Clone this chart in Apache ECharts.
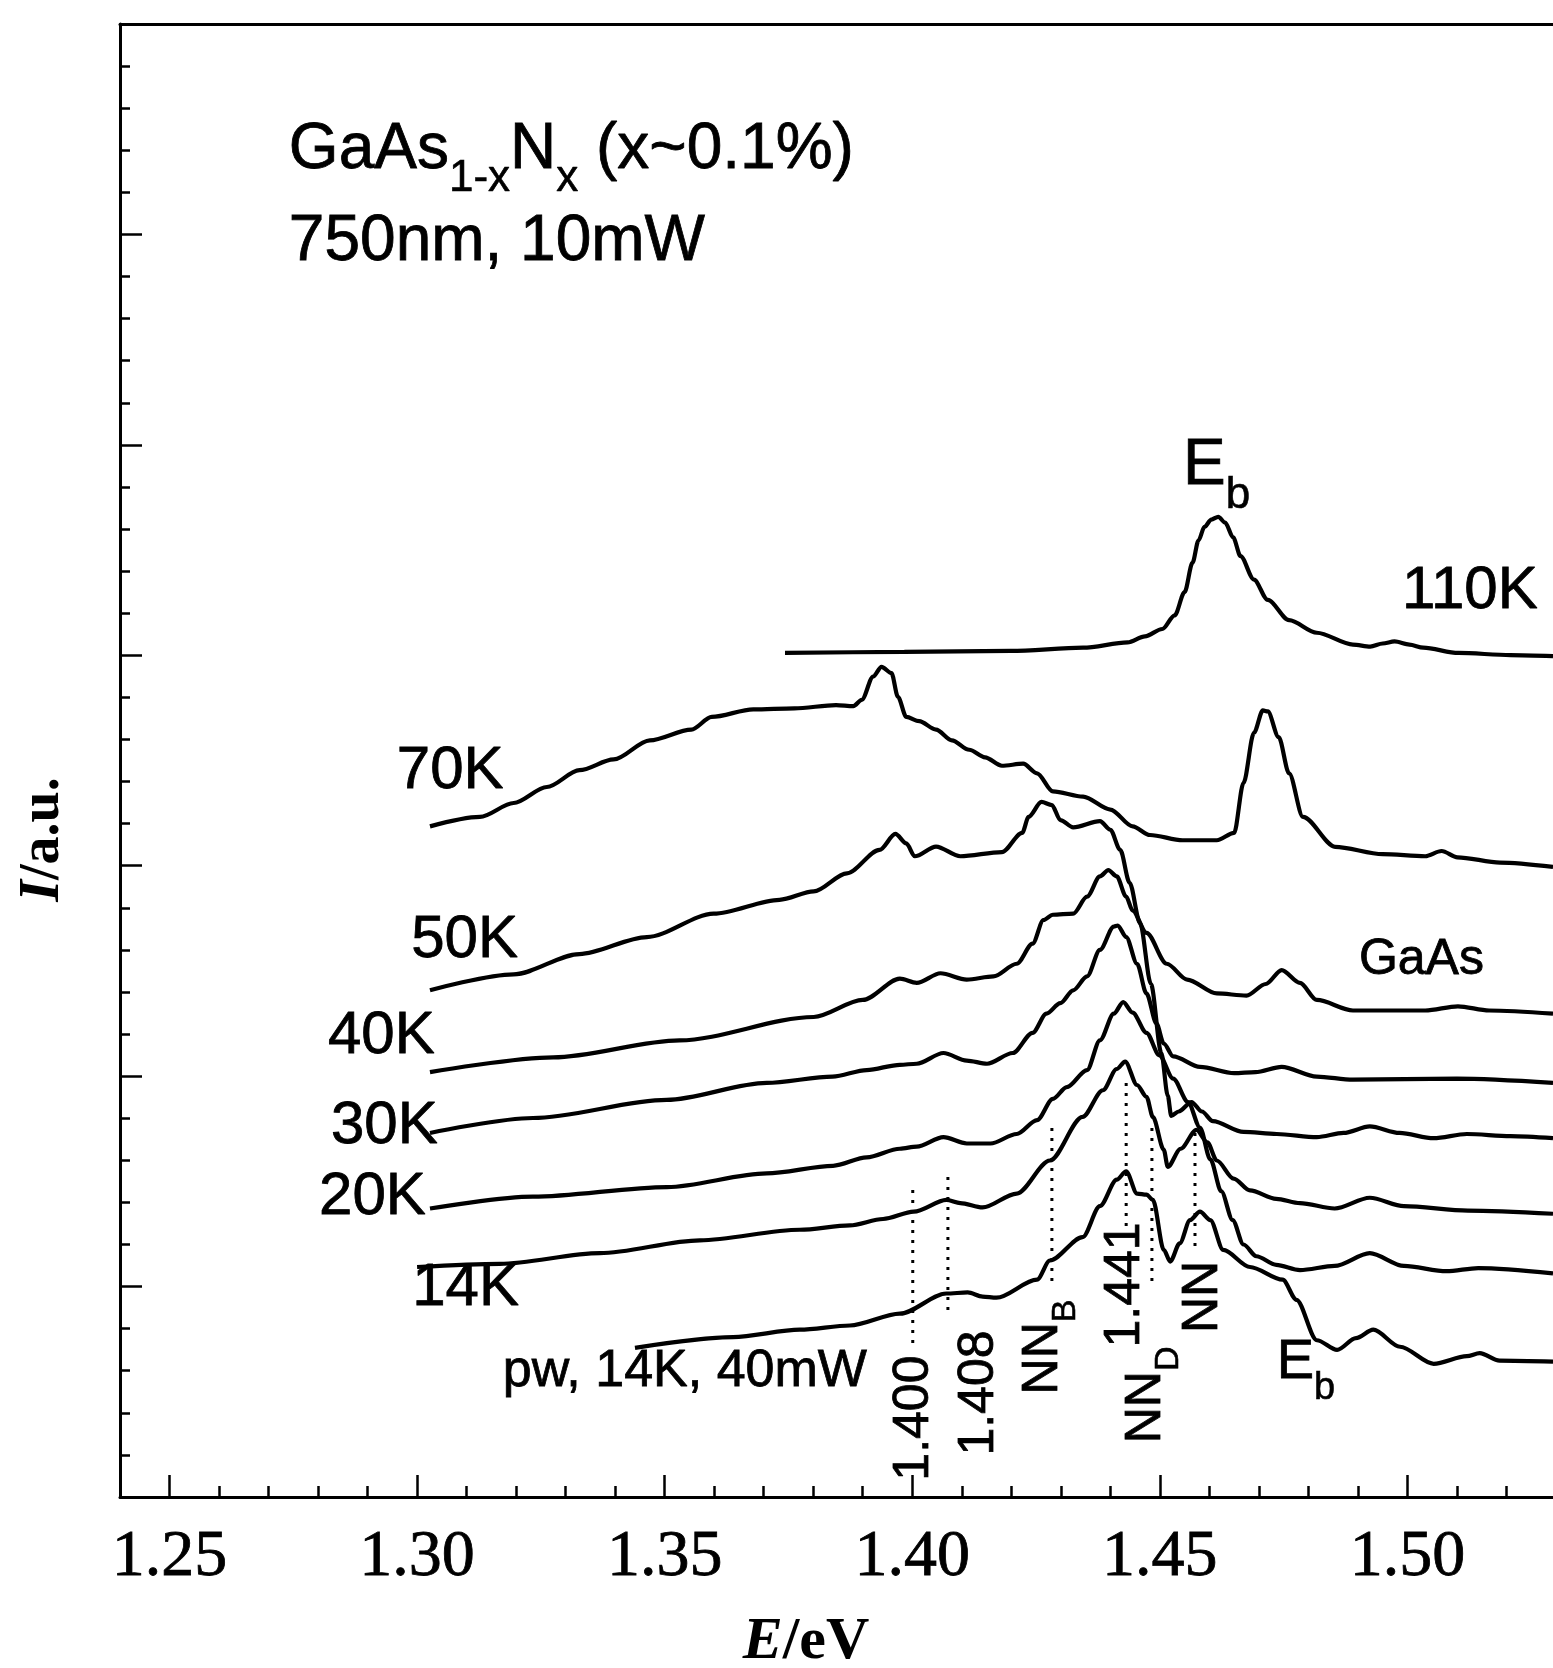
<!DOCTYPE html>
<html>
<head>
<meta charset="utf-8">
<script src="https://cdn.jsdelivr.net/npm/echarts@6/dist/echarts.min.js"></script>
<style>
html,body{margin:0;padding:0;background:#fff;}
#main{width:1553px;height:1668px;}
</style>
</head>
<body>
<div id="main"></div>
<script>
// PL spectra, [E (eV), I (a.u., curves offset)]
var pl110K = [[1.3743,4.011],[1.3984,4.016],[1.4199,4.021],[1.4345,4.036],[1.4435,4.061],[1.4470,4.090],[1.4505,4.125],[1.4530,4.190],[1.4550,4.300],[1.4566,4.440],[1.4578,4.545],[1.4590,4.610],[1.4604,4.645],[1.4618,4.658],[1.4632,4.630],[1.4648,4.560],[1.4663,4.471],[1.4690,4.360],[1.4718,4.263],[1.4761,4.167],[1.4817,4.107],[1.4890,4.051],[1.4925,4.041],[1.4950,4.056],[1.4974,4.066],[1.5004,4.051],[1.5032,4.036],[1.5103,4.011],[1.5208,4.001],[1.5294,3.996]];
var pl70K = [[1.3026,3.187],[1.3127,3.232],[1.3195,3.298],[1.3262,3.374],[1.3328,3.454],[1.3397,3.505],[1.3470,3.596],[1.3554,3.647],[1.3595,3.707],[1.3679,3.743],[1.3762,3.748],[1.3846,3.763],[1.3881,3.758],[1.3898,3.788],[1.3921,3.899],[1.3938,3.945],[1.3958,3.915],[1.3971,3.803],[1.3988,3.707],[1.4014,3.687],[1.4048,3.647],[1.4080,3.596],[1.4115,3.551],[1.4147,3.515],[1.4181,3.475],[1.4224,3.485],[1.4252,3.439],[1.4284,3.353],[1.4345,3.328],[1.4400,3.267],[1.4445,3.187],[1.4480,3.146],[1.4546,3.121],[1.4615,3.121],[1.4650,3.156],[1.4669,3.394],[1.4690,3.631],[1.4708,3.738],[1.4718,3.733],[1.4740,3.611],[1.4761,3.439],[1.4789,3.232],[1.4854,3.090],[1.4950,3.055],[1.5036,3.045],[1.5069,3.070],[1.5101,3.040],[1.5187,3.015],[1.5294,2.994]];
var pl50K = [[1.3026,2.408],[1.3195,2.484],[1.3328,2.580],[1.3464,2.661],[1.3599,2.772],[1.3732,2.838],[1.3801,2.878],[1.3868,2.964],[1.3934,3.075],[1.3966,3.151],[1.3988,3.106],[1.4005,3.045],[1.4048,3.091],[1.4097,3.045],[1.4181,3.065],[1.4222,3.156],[1.4235,3.232],[1.4261,3.303],[1.4282,3.288],[1.4299,3.217],[1.4325,3.182],[1.4379,3.212],[1.4400,3.171],[1.4420,3.075],[1.4439,2.919],[1.4460,2.727],[1.4482,2.438],[1.4503,2.110],[1.4516,1.907],[1.4523,1.811],[1.4538,1.832],[1.4564,1.877],[1.4585,1.832],[1.4607,1.786],[1.4669,1.735],[1.4736,1.725],[1.4817,1.710],[1.4871,1.730],[1.4924,1.761],[1.4984,1.730],[1.5053,1.705],[1.5120,1.725],[1.5208,1.715],[1.5294,1.705]];
var pl40K = [[1.3026,2.019],[1.3275,2.089],[1.3530,2.170],[1.3801,2.281],[1.3900,2.362],[1.3975,2.463],[1.4009,2.443],[1.4057,2.489],[1.4110,2.459],[1.4164,2.474],[1.4211,2.534],[1.4243,2.630],[1.4265,2.742],[1.4284,2.767],[1.4325,2.772],[1.4353,2.853],[1.4379,2.949],[1.4396,2.979],[1.4413,2.949],[1.4432,2.853],[1.4445,2.787],[1.4473,2.681],[1.4514,2.534],[1.4555,2.459],[1.4615,2.393],[1.4675,2.383],[1.4714,2.438],[1.4746,2.504],[1.4783,2.443],[1.4817,2.362],[1.4890,2.312],[1.5036,2.312],[1.5102,2.332],[1.5165,2.312],[1.5294,2.297]];
var pl30K = [[1.3026,1.730],[1.3234,1.801],[1.3504,1.887],[1.3706,1.968],[1.3839,1.998],[1.3908,2.029],[1.3975,2.054],[1.4009,2.059],[1.4063,2.110],[1.4110,2.074],[1.4151,2.059],[1.4203,2.110],[1.4243,2.206],[1.4271,2.297],[1.4299,2.347],[1.4325,2.408],[1.4353,2.474],[1.4379,2.600],[1.4407,2.711],[1.4415,2.716],[1.4432,2.661],[1.4454,2.534],[1.4473,2.393],[1.4493,2.251],[1.4508,2.155],[1.4527,2.094],[1.4581,2.044],[1.4650,2.014],[1.4693,2.019],[1.4746,2.044],[1.4817,1.998],[1.4890,1.983],[1.5100,1.988],[1.5294,1.968]];
var pl20K = [[1.3026,1.371],[1.3234,1.427],[1.3505,1.473],[1.3706,1.538],[1.3840,1.574],[1.3908,1.614],[1.3975,1.655],[1.4009,1.665],[1.4063,1.710],[1.4110,1.680],[1.4158,1.680],[1.4211,1.725],[1.4252,1.791],[1.4284,1.892],[1.4312,1.948],[1.4353,2.029],[1.4379,2.170],[1.4407,2.297],[1.4426,2.352],[1.4445,2.302],[1.4473,2.206],[1.4499,2.099],[1.4527,1.988],[1.4557,1.877],[1.4581,1.756],[1.4602,1.604],[1.4624,1.453],[1.4647,1.316],[1.4669,1.200],[1.4695,1.144],[1.4735,1.103],[1.4783,1.078],[1.4853,1.098],[1.4924,1.159],[1.4993,1.098],[1.5079,1.073],[1.5143,1.088],[1.5294,1.063]];
var pl14K = [[1.3000,1.093],[1.3167,1.108],[1.3369,1.159],[1.3571,1.220],[1.3773,1.270],[1.3874,1.291],[1.3941,1.321],[1.4003,1.356],[1.4069,1.412],[1.4097,1.397],[1.4142,1.376],[1.4211,1.442],[1.4278,1.599],[1.4344,1.806],[1.4385,1.933],[1.4413,2.034],[1.4430,2.069],[1.4454,1.958],[1.4473,1.902],[1.4486,1.806],[1.4508,1.650],[1.4516,1.569],[1.4542,1.655],[1.4574,1.745],[1.4596,1.685],[1.4615,1.599],[1.4649,1.513],[1.4682,1.457],[1.4735,1.417],[1.4783,1.397],[1.4853,1.371],[1.4924,1.422],[1.4993,1.382],[1.5122,1.361],[1.5294,1.346]];
var plPw = [[1.3440,0.709],[1.3638,0.760],[1.3773,0.795],[1.3874,0.815],[1.3975,0.871],[1.4069,0.967],[1.4112,0.972],[1.4142,0.952],[1.4170,0.947],[1.4252,1.033],[1.4278,1.124],[1.4344,1.235],[1.4379,1.382],[1.4413,1.508],[1.4432,1.548],[1.4454,1.442],[1.4473,1.437],[1.4486,1.412],[1.4508,1.174],[1.4521,1.119],[1.4540,1.205],[1.4561,1.316],[1.4581,1.356],[1.4602,1.316],[1.4628,1.174],[1.4682,1.093],[1.4748,1.033],[1.4776,0.937],[1.4817,0.745],[1.4858,0.699],[1.4896,0.755],[1.4931,0.795],[1.4985,0.714],[1.5053,0.633],[1.5120,0.669],[1.5146,0.684],[1.5186,0.648],[1.5294,0.643]];

// dotted markers: [E, I top, I bottom]
var dotLines = [[1.4001,1.459,0.713],[1.4072,1.521,0.856],[1.4282,1.754,1.017],[1.4432,1.968,1.283],[1.4484,1.754,1.017],[1.4571,1.730,1.160]];

var majorTicks = [1.25,1.30,1.35,1.40,1.45,1.50];
var minorTicks = [1.26,1.27,1.28,1.29,1.31,1.32,1.33,1.34,1.36,1.37,1.38,1.39,1.41,1.42,1.43,1.44,1.46,1.47,1.48,1.49,1.51,1.52];

// text annotations: [text, E, I, size]  (left / baseline)
var plainLabels = [
	['750nm, 10mW',1.2741,5.856,64],
	['110K',1.4989,4.202,60],
	['70K',1.2959,3.346,60],
	['50K',1.2988,2.543,60],
	['40K',1.2820,2.087,60],
	['30K',1.2826,1.663,60],
	['20K',1.2802,1.326,60],
	['14K',1.2990,0.889,60],
	['GaAs',1.4902,2.467,50],
	['pw, 14K, 40mW',1.3173,0.509,52]
];
var subLabels = [
	['{m|GaAs}{s|1-x}{m|N}{s|x}{m| (x~0.1%)}',1.2741,6.205,64],
	['{m|E}{s|b}',1.4547,4.701,64],
	['{m|E}{s|b}',1.4736,0.466,56]
];
// rotated, centred
var rotLabels = [
	['1.400',1.4003,0.375],
	['1.408',1.4135,0.494],
	['{m|NN}{s|B}',1.4294,0.713],
	['1.441',1.4430,1.008],
	['{m|NN}{s|D}',1.4502,0.485],
	['NN',1.4587,0.951]
];

var sans = 'Liberation Sans, Arial, sans-serif';
var serif = 'Liberation Serif, Times New Roman, serif';

var chart = echarts.init(document.getElementById('main'));

var series = [pl110K,pl70K,pl50K,pl40K,pl30K,pl20K,pl14K,plPw].map(function (d) {
	return {
		type: 'line', data: d, showSymbol: false, silent: true,
		smooth: 0.3, smoothMonotone: 'x',
		xAxisIndex: 0, yAxisIndex: 0,
		lineStyle: {color: '#000', width: 4.2}
	};
});
dotLines.forEach(function (d) {
	series.push({
		type: 'line', data: [[d[0],d[1]],[d[0],d[2]]], showSymbol: false, silent: true,
		xAxisIndex: 0, yAxisIndex: 0,
		lineStyle: {color: '#000', width: 3, type: [3,7]}
	});
});

var xMin = 1.24, xMax = 1.5294;

var option = {
	animation: false,
	backgroundColor: '#fff',
	grid: {left: 120, right: 0, top: 24, bottom: 171, outerBoundsMode: 'none', containLabel: false},
	xAxis: [{
		type: 'value', min: xMin, max: xMax, position: 'bottom',
		axisLine: {onZero: false, lineStyle: {color: '#000', width: 3}},
		axisTick: {inside: true, length: 22, customValues: majorTicks, lineStyle: {color: '#000', width: 2.5}},
		axisLabel: {customValues: majorTicks, margin: 28, color: '#000', fontFamily: serif, fontSize: 66,
			textBorderColor: '#000', textBorderWidth: 0.8,
			formatter: function (v) { return v.toFixed(2); }},
		splitLine: {show: false}
	}, {
		type: 'value', min: xMin, max: xMax, position: 'bottom',
		axisLine: {show: false},
		axisTick: {inside: true, length: 11, customValues: minorTicks, lineStyle: {color: '#000', width: 2.5}},
		axisLabel: {show: false}, splitLine: {show: false}
	}, {
		type: 'value', min: xMin, max: xMax, position: 'top',
		axisLine: {onZero: false, lineStyle: {color: '#000', width: 3}},
		axisTick: {show: false}, axisLabel: {show: false}, splitLine: {show: false}
	}],
	yAxis: {
		type: 'value', min: 0, max: 7, interval: 1,
		axisLine: {show: true, onZero: false, lineStyle: {color: '#000', width: 3}},
		axisTick: {show: true, inside: true, length: 22, lineStyle: {color: '#000', width: 2.5}},
		minorTick: {show: true, splitNumber: 5, length: 10, lineStyle: {color: '#000', width: 2.5}},
		axisLabel: {show: false},
		splitLine: {show: false},
		name: '{i|I}{n|/a.u.}', nameLocation: 'middle', nameRotate: 90, nameGap: 48,
		nameTextStyle: {padding: [0,158,0,0], rich: {
			i: {fontFamily: serif, fontStyle: 'italic', fontWeight: 'bold', fontSize: 56, color: '#000'},
			n: {fontFamily: serif, fontWeight: 'bold', fontSize: 56, color: '#000'}
		}}
	},
	series: series
};
chart.setOption(option);

function richStyle(size) {
	var ss = Math.round(size * 0.68);
	return {
		m: {fontSize: size, lineHeight: size, fontFamily: sans, fill: '#000', stroke: '#000', lineWidth: 0.8,
			verticalAlign: 'bottom', padding: [0,0,Math.round(size*0.3),0]},
		s: {fontSize: ss, lineHeight: ss, fontFamily: sans, fill: '#000', stroke: '#000', lineWidth: 0.6,
			verticalAlign: 'bottom'}
	};
}
function toPx(e, i) {
	return chart.convertToPixel({xAxisIndex: 0, yAxisIndex: 0}, [e, i]);
}

var graphics = [];
plainLabels.forEach(function (l) {
	var p = toPx(l[1], l[2]);
	graphics.push({type: 'text', x: p[0], y: p[1] - 0.35*l[3], silent: true, z: 100,
		style: {text: l[0], fontSize: l[3], fontFamily: sans, fill: '#000', stroke: '#000', lineWidth: 0.8,
			align: 'left', verticalAlign: 'middle'}});
});
subLabels.forEach(function (l) {
	var p = toPx(l[1], l[2]);
	graphics.push({type: 'text', x: p[0], y: p[1] - 0.847*l[3], silent: true, z: 100,
		style: {text: l[0], rich: richStyle(l[3]), fill: '#000', align: 'left', verticalAlign: 'top'}});
});
rotLabels.forEach(function (l) {
	var p = toPx(l[1], l[2]);
	var isRich = l[0].charAt(0) === '{';
	var st = {text: l[0], fontSize: 50, fontFamily: sans, fill: '#000', align: 'center', verticalAlign: 'middle'};
	if (isRich) {
		st.rich = richStyle(50);
	} else {
		st.stroke = '#000';
		st.lineWidth = 0.8;
	}
	graphics.push({type: 'text', x: p[0], y: p[1], rotation: Math.PI/2, silent: true, z: 100, style: st});
});
// x axis title, under the tick labels
graphics.push({type: 'text', x: 806, y: 1642, silent: true, z: 100,
	style: {text: '{i|E}{n|/eV}', align: 'center', verticalAlign: 'middle', rich: {
		i: {fontFamily: serif, fontStyle: 'italic', fontWeight: 'bold', fontSize: 60, lineHeight: 60, fill: '#000'},
		n: {fontFamily: serif, fontWeight: 'bold', fontSize: 60, lineHeight: 60, fill: '#000'}
	}}});
chart.setOption({graphic: graphics});
</script>
</body>
</html>
